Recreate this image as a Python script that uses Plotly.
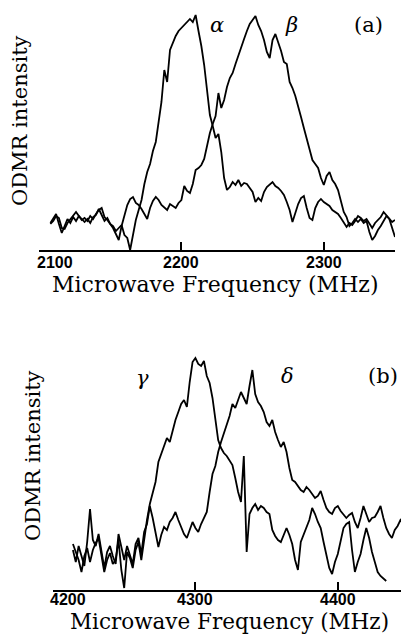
import plotly.graph_objects as go

# ---------------- data ----------------
# Panel (a): frequency grid (MHz) and ODMR intensity (arb. units)
FREQ_A = list(range(2108, 2351, 2))
ALPHA = [27, 31, 36, 26, 17, 24, 31, 27, 33, 29,
         34, 31, 28, 31, 27, 33, 35, 41, 34, 29,
         32, 26, 24, 19, 22, 25, 15, 12, 0, 14,
         30, 40, 50, 66, 78, 86, 99, 108, 128, 148,
         180, 168, 200, 207, 214, 219, 222, 226, 229, 231,
         228, 235, 219, 204, 185, 160, 135, 124, 112, 116,
         98, 72, 60, 63, 68, 65, 70, 64, 67, 66,
         62, 58, 48, 52, 49, 58, 63, 66, 68, 64,
         62, 59, 55, 48, 40, 28, 38, 46, 52, 54,
         42, 32, 30, 42, 48, 51, 48, 46, 44, 40,
         38, 36, 32, 28, 23, 27, 25, 29, 34, 32,
         29, 31, 26, 22, 27, 30, 33, 38, 35, 31,
         28, 30]
BETA = [26, 29, 34, 32, 22, 21, 27, 31, 35, 38,
        34, 30, 32, 29, 34, 31, 36, 40, 42, 33,
        30, 26, 22, 16, 10, 24, 36, 45, 51, 53,
        47, 45, 41, 36, 31, 42, 49, 53, 50, 45,
        42, 40, 46, 44, 42, 47, 50, 64, 59, 57,
        66, 80, 82, 85, 91, 104, 117, 126, 134, 157,
        142, 150, 163, 172, 177, 186, 195, 203, 211, 219,
        226, 230, 234, 225, 219, 210, 198, 192, 210, 216,
        208, 199, 188, 186, 168, 162, 154, 142, 133, 122,
        111, 100, 90, 86, 82, 72, 65, 74, 78, 70,
        66, 60, 50, 38, 33, 24, 27, 31, 28, 31,
        27, 29, 18, 10, 14, 20, 24, 29, 34, 31,
        22, 13]

# Panel (b)
FREQ_G = list(range(4214, 4435, 2))
FREQ_D = list(range(4214, 4451, 2))
GAMMA = [46, 38, 30, 18, 34, 42, 28, 40, 47, 52,
         36, 18, 30, 37, 26, 30, 50, 20, 2, 38,
         32, 22, 40, 48, 30, 52, 70, 86, 96, 108,
         128, 136, 143, 152, 148, 160, 170, 178, 186, 190,
         183, 208, 228, 232, 226, 224, 229, 214, 207, 192,
         170, 150, 142, 137, 134, 130, 125, 112, 98, 88,
         134, 38, 76, 82, 86, 80, 84, 82, 78, 76,
         60, 54, 50, 48, 56, 62, 55, 46, 30, 20,
         48, 56, 62, 70, 82, 76, 68, 62, 48, 36,
         22, 16, 28, 36, 50, 62, 66, 68, 40, 18,
         28, 36, 50, 62, 52, 38, 28, 18, 14, 11,
         9]
DELTA = [40, 28, 44, 35, 24, 48, 81, 50, 44, 56,
         40, 22, 38, 44, 34, 26, 56, 42, 30, 44,
         36, 26, 46, 52, 36, 58, 66, 84, 72, 58,
         43, 55, 63, 60, 68, 72, 78, 70, 63, 56,
         52, 60, 68, 62, 58, 66, 72, 78, 98, 116,
         124, 138, 148, 156, 166, 174, 186, 182, 190, 198,
         192, 186, 204, 220, 196, 188, 184, 178, 168, 164,
         170, 158, 150, 143, 148, 138, 122, 110, 108, 104,
         100, 98, 103, 100, 96, 92, 94, 99, 90, 82,
         78, 76, 82, 84, 79, 76, 72, 75, 77, 68,
         62, 72, 84, 76, 68, 72, 73, 78, 84, 72,
         62, 56, 52, 60, 64, 70, 66, 56, 36]

TICKS_A = [2100, 2200, 2300]
TICKS_B = [4200, 4300, 4400]
X_TITLE = "Microwave Frequency (MHz)"
Y_TITLE = "ODMR intensity"

FONT = "DejaVu Serif"
TICK_FONT = dict(family="Liberation Sans, Arial, sans-serif", size=16, color="black",
                 weight="bold")
OFF = 8                      # page body margin of the html page
W, H = 409 - OFF, 634 - OFF


def PX(x):                   # screen px -> paper x
    return (x - OFF) / W


def PY(y):                   # screen px -> paper y
    return 1 - (y - OFF) / H


fig = go.Figure()
line = dict(color="black", width=1.8)
fig.add_trace(go.Scatter(x=FREQ_A[:len(ALPHA)], y=ALPHA, mode="lines", line=line,
                         xaxis="x", yaxis="y", name="α"))
fig.add_trace(go.Scatter(x=FREQ_A[:len(BETA)], y=BETA, mode="lines", line=line,
                         xaxis="x", yaxis="y", name="β"))
fig.add_trace(go.Scatter(x=FREQ_G[:len(GAMMA)], y=GAMMA, mode="lines", line=line,
                         xaxis="x2", yaxis="y2", name="γ"))
fig.add_trace(go.Scatter(x=FREQ_D[:len(DELTA)], y=DELTA, mode="lines", line=line,
                         xaxis="x2", yaxis="y2", name="δ"))


def xax(domain, rng, ticks, anchor):
    return dict(domain=domain, range=rng, anchor=anchor,
                showline=True, linewidth=2, linecolor="black",
                ticks="inside", ticklen=8, tickwidth=1.5, tickcolor="black",
                tickvals=ticks, showticklabels=False,
                showgrid=False, zeroline=False, fixedrange=True)


def yax(domain, rng, anchor):
    return dict(domain=domain, range=rng, anchor=anchor, visible=False,
                showgrid=False, zeroline=False, fixedrange=True)


fig.update_layout(
    width=W, height=H, margin=dict(l=0, r=0, t=0, b=0),
    paper_bgcolor="white", plot_bgcolor="white", showlegend=False,
    xaxis=xax([PX(39), PX(395)], [2100, 2350], TICKS_A, "y"),
    yaxis=yax([PY(250), PY(10)], [0, 240], "x"),
    xaxis2=xax([PX(53), min(1.0, PX(409))], [4200, 4450], TICKS_B, "y2"),
    yaxis2=yax([PY(590), PY(345)], [0, 245], "x2"),
)

ann = []
# tick labels (first one left-aligned at the axis start, as in the original)
for ticks, xr, ypx, shift in [(TICKS_A, "x", 262, -4), (TICKS_B, "x2", 599.5, -5)]:
    for i, t in enumerate(ticks):
        ann.append(dict(x=t, xref=xr, y=PY(ypx), yref="paper", text=str(t),
                        xanchor="left" if i == 0 else "center", yanchor="middle",
                        xshift=shift if i == 0 else 0, showarrow=False,
                        font=TICK_FONT))
# axis titles
ann.append(dict(x=PX(215.5), y=PY(285), xref="paper", yref="paper", text=X_TITLE,
                showarrow=False, xanchor="center", yanchor="middle",
                font=dict(family=FONT, size=22, color="black")))
ann.append(dict(x=PX(229), y=PY(621), xref="paper", yref="paper", text=X_TITLE,
                showarrow=False, xanchor="center", yanchor="middle",
                font=dict(family=FONT, size=21.5, color="black")))
ann.append(dict(x=PX(20), y=PY(121), xref="paper", yref="paper", text=Y_TITLE,
                textangle=-90, showarrow=False, xanchor="center", yanchor="middle",
                font=dict(family=FONT, size=21, color="black")))
ann.append(dict(x=PX(33), y=PY(456), xref="paper", yref="paper", text=Y_TITLE,
                textangle=-90, showarrow=False, xanchor="center", yanchor="middle",
                font=dict(family=FONT, size=21, color="black")))
# peak labels
for txt, x, y, xr, yr in [("<i>α</i>", 2225, 225, "x", "y"),
                          ("<i>β</i>", 2277, 225, "x", "y"),
                          ("(a)", 2331.5, 225, "x", "y"),
                          ("<i>γ</i>", 4263, 212, "x2", "y2"),
                          ("<i>δ</i>", 4365, 214, "x2", "y2"),
                          ("(b)", 4432, 214, "x2", "y2")]:
    ann.append(dict(x=x, y=y, xref=xr, yref=yr, text=txt, showarrow=False,
                    xanchor="center", yanchor="middle",
                    font=dict(family=FONT, size=21, color="black")))

fig.update_layout(annotations=ann)
fig.write_html("out.html")
